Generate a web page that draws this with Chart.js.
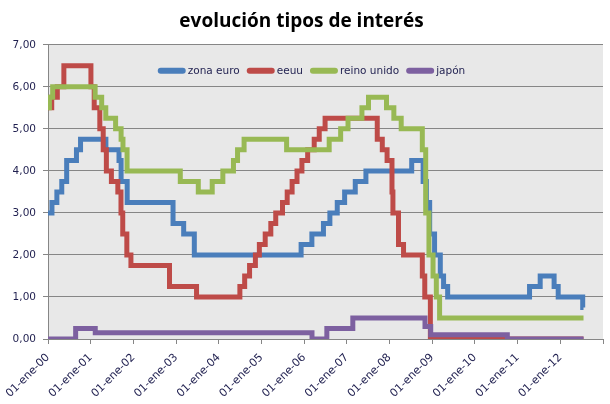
<!DOCTYPE html>
<html lang="es">
<head>
<meta charset="utf-8">
<title>evolución tipos de interés</title>
<script src="https://cdn.jsdelivr.net/npm/chart.js@4.4.1/dist/chart.umd.min.js"></script>
<style>
  html, body { margin: 0; padding: 0; background: #fff; }
  #wrap { width: 610px; height: 404px; }
</style>
</head>
<body>
<div id="wrap"><canvas id="rates" width="610" height="404"></canvas></div>
<script>
// tipos oficiales: fecha del cambio y nuevo tipo
const euroDates = ['2000-01-01', '2000-02-04', '2000-03-17', '2000-04-28', '2000-06-09', '2000-09-01',
    '2000-10-06', '2001-05-11', '2001-08-31', '2001-09-18', '2001-11-09', '2002-12-06', '2003-03-07',
    '2003-06-06', '2005-12-06', '2006-03-08', '2006-06-15', '2006-08-09', '2006-10-11', '2006-12-13',
    '2007-03-14', '2007-06-13', '2008-07-09', '2008-10-15', '2008-11-12', '2008-12-10', '2009-01-21',
    '2009-03-11', '2009-04-08', '2009-05-13', '2011-04-13', '2011-07-13', '2011-11-09', '2011-12-14',
    '2012-07-11', '2012-07-18'];
const euroRates = [3.00, 3.25, 3.50, 3.75, 4.25, 4.50, 4.75, 4.50, 4.25, 3.75, 3.25, 2.75, 2.50,
    2.00, 2.25, 2.50, 2.75, 3.00, 3.25, 3.50, 3.75, 4.00, 4.25, 3.75, 3.25, 2.50, 2.00,
    1.50, 1.25, 1.00, 1.25, 1.50, 1.25, 1.00, 0.75, 0.75];

const usDates = ['2000-01-01', '2000-02-02', '2000-03-21', '2000-05-16', '2001-01-03', '2001-01-31',
    '2001-03-20', '2001-04-18', '2001-05-15', '2001-06-27', '2001-08-21', '2001-09-17', '2001-10-02',
    '2001-11-06', '2001-12-11', '2002-11-06', '2003-06-25', '2004-06-30', '2004-08-10', '2004-09-21',
    '2004-11-10', '2004-12-14', '2005-02-02', '2005-03-22', '2005-05-03', '2005-06-30', '2005-08-09',
    '2005-09-20', '2005-11-01', '2005-12-13', '2006-01-31', '2006-03-28', '2006-05-10', '2006-06-29',
    '2007-09-18', '2007-10-31', '2007-12-11', '2008-01-22', '2008-01-30', '2008-03-18', '2008-04-30',
    '2008-10-08', '2008-10-29', '2008-12-16', '2012-07-18'];
const usRates = [5.50, 5.75, 6.00, 6.50, 6.00, 5.50, 5.00, 4.50, 4.00, 3.75, 3.50, 3.00, 2.50,
    2.00, 1.75, 1.25, 1.00, 1.25, 1.50, 1.75, 2.00, 2.25, 2.50, 2.75, 3.00, 3.25, 3.50,
    3.75, 4.00, 4.25, 4.50, 4.75, 5.00, 5.25, 4.75, 4.50, 4.25, 3.50, 3.00, 2.25, 2.00,
    1.50, 1.00, 0.00, 0.00];

const ukDates = ['2000-01-01', '2000-01-13', '2000-02-10', '2001-02-08', '2001-04-05', '2001-05-10',
    '2001-08-02', '2001-09-18', '2001-10-04', '2001-11-08', '2003-02-06', '2003-07-10', '2003-11-06',
    '2004-02-05', '2004-05-06', '2004-06-10', '2004-08-05', '2005-08-04', '2006-08-03', '2006-11-09',
    '2007-01-11', '2007-05-10', '2007-07-05', '2007-12-06', '2008-02-07', '2008-04-10', '2008-10-08',
    '2008-11-06', '2008-12-04', '2009-01-08', '2009-02-05', '2009-03-05', '2012-07-18'];
const ukRates = [5.50, 5.75, 6.00, 5.75, 5.50, 5.25, 5.00, 4.75, 4.50, 4.00, 3.75, 3.50, 3.75,
    4.00, 4.25, 4.50, 4.75, 4.50, 4.75, 5.00, 5.25, 5.50, 5.75, 5.50, 5.25, 5.00, 4.50,
    3.00, 2.00, 1.50, 1.00, 0.50, 0.50];

const jpDates = ['2000-01-01', '2000-08-25', '2001-02-09', '2006-03-09', '2006-07-14', '2007-02-21',
    '2008-10-31', '2008-12-19', '2010-10-05', '2012-07-18'];
const jpRates = [0.00, 0.25, 0.15, 0.00, 0.25, 0.50, 0.30, 0.10, 0.00, 0.00];

const seriesNames = ['zona euro', 'eeuu', 'reino unido', 'japón'];
const yearTicks = [2000, 2001, 2002, 2003, 2004, 2005, 2006, 2007, 2008, 2009, 2010, 2011, 2012];

const textColor = '#1f1f4f';
const gridColor = '#868686';

// fecha 'aaaa-mm-dd' -> año decimal, para un eje lineal sin adaptador de fechas
function decYear(s) {
    const [y, m, d] = s.split('-').map(Number);
    const start = Date.UTC(y, 0, 1);
    const end = Date.UTC(y + 1, 0, 1);
    return y + (Date.UTC(y, m - 1, d) - start) / (end - start);
}

function toPoints(dates, rates) {
    return dates.map((d, i) => ({ x: decYear(d), y: rates[i] }));
}

function makeSeries(idx, dates, rates, color) {
    return {
        label: seriesNames[idx],
        data: toPoints(dates, rates),
        borderColor: color,
        backgroundColor: color,
        borderWidth: 5,
        stepped: true,
        pointRadius: 0,
        fill: false,
        // en Excel la última serie queda encima
        order: 3 - idx,
    };
}

const plotBackground = {
    id: 'plotBackground',
    beforeDraw(chart) {
        const { ctx, chartArea: a } = chart;
        ctx.save();
        ctx.fillStyle = '#e8e8e8';
        ctx.fillRect(a.left, a.top, a.right - a.left, a.bottom - a.top);
        ctx.restore();
    }
};

// leyenda dentro del área de trazado, como en el original
const insideLegend = {
    id: 'insideLegend',
    afterDraw(chart) {
        const { ctx, chartArea: a } = chart;
        const sample = 28, gap = 2, spacing = 7;
        ctx.save();
        ctx.font = '10.5px "DejaVu Sans"';
        ctx.textBaseline = 'middle';
        const items = chart.data.datasets.map(ds => ({
            label: ds.label,
            color: ds.borderColor,
            w: ctx.measureText(ds.label).width
        }));
        const total = items.reduce((s, it) => s + sample + gap + it.w, 0) + spacing * (items.length - 1);
        let x = (a.left + a.right) / 2 - total / 2 - 14;
        const y = a.top + 26;
        items.forEach(it => {
            ctx.strokeStyle = it.color;
            ctx.lineWidth = 6;
            ctx.lineCap = 'round';
            ctx.beginPath();
            ctx.moveTo(x + 3, y);
            ctx.lineTo(x + sample - 3, y);
            ctx.stroke();
            ctx.fillStyle = textColor;
            ctx.fillText(it.label, x + sample + gap, y + 0.5);
            x += sample + gap + it.w + spacing;
        });
        ctx.restore();
    }
};

new Chart(document.getElementById('rates'), {
    type: 'line',
    data: {
        datasets: [
            makeSeries(0, euroDates, euroRates, '#4a7ebb'),
            makeSeries(1, usDates, usRates, '#be4b48'),
            makeSeries(2, ukDates, ukRates, '#98b954'),
            makeSeries(3, jpDates, jpRates, '#7d60a0'),
        ]
    },
    options: {
        responsive: false,
        animation: false,
        layout: { padding: { left: 0, right: 7, top: 0, bottom: 0 } },
        elements: { line: { tension: 0, borderCapStyle: 'butt', borderJoinStyle: 'miter' } },
        plugins: {
            legend: { display: false },
            tooltip: { enabled: false },
            title: {
                display: true,
                text: 'evolución tipos de interés',
                color: '#000',
                font: { family: '"Open Sans", "Noto Sans", sans-serif', size: 19, weight: 'bold' },
                padding: { top: 10, bottom: 12 }
            }
        },
        scales: {
            x: {
                type: 'linear',
                min: 2000,
                max: 2013,
                afterFit(scale) {
                    scale.height = 65;
                    // que las etiquetas giradas no encojan el área de trazado
                    scale.paddingLeft = 0;
                    scale.paddingRight = 0;
                },
                afterBuildTicks(scale) {
                    scale.ticks = yearTicks.concat([2013]).map(v => ({ value: v }));
                },
                ticks: {
                    autoSkip: false,
                    minRotation: 45,
                    maxRotation: 45,
                    padding: 7,
                    color: textColor,
                    font: { family: '"DejaVu Sans"', size: 11 },
                    callback: (v) => yearTicks.includes(v) ? '01-ene-' + String(v - 2000).padStart(2, '0') : ''
                },
                grid: { drawOnChartArea: false, drawTicks: true, tickLength: 5, color: gridColor },
                border: { color: gridColor }
            },
            y: {
                min: 0,
                max: 7,
                afterFit(scale) {
                    scale.width = 48;
                    scale.paddingTop = 0;
                    scale.paddingBottom = 0;
                },
                ticks: {
                    stepSize: 1,
                    padding: 7,
                    color: textColor,
                    font: { family: '"DejaVu Sans"', size: 10.5 },
                    callback: (v) => v.toFixed(2).replace('.', ',')
                },
                grid: { color: gridColor, tickLength: 5 },
                border: { color: gridColor }
            }
        }
    },
    plugins: [plotBackground, insideLegend]
});
</script>
</body>
</html>
